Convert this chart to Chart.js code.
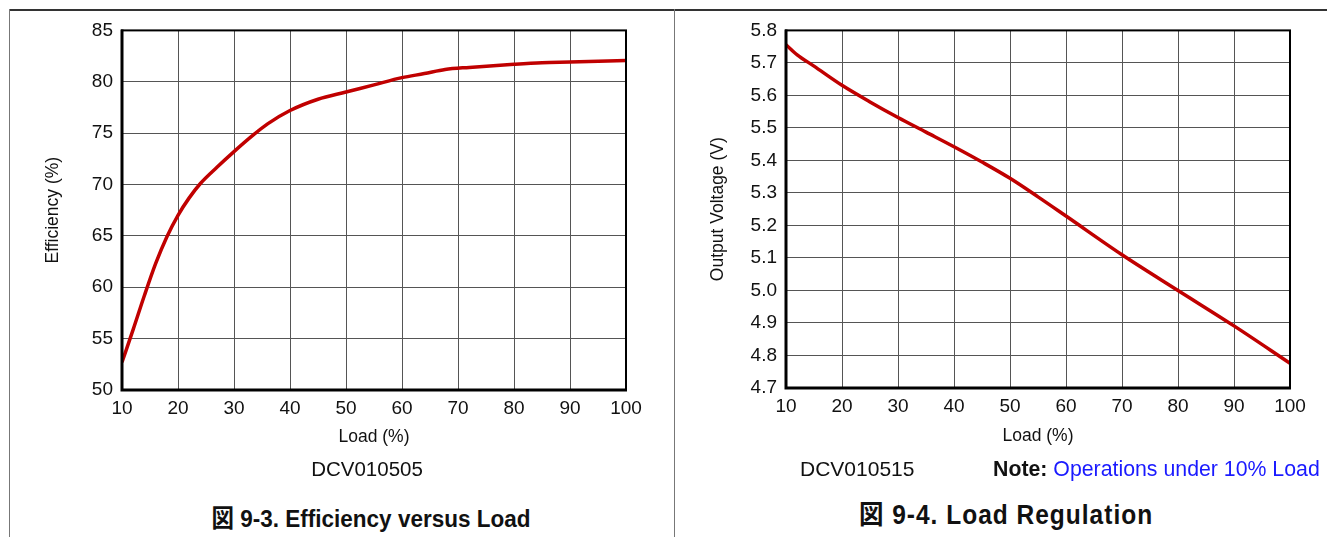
<!DOCTYPE html>
<html>
<head>
<meta charset="utf-8">
<script src="https://cdn.jsdelivr.net/npm/chart.js@4.4.0/dist/chart.umd.min.js"></script>
<style>
  body { margin: 0; background: #fff; font-family: "Liberation Sans", Arial, sans-serif; }
  #page { position: relative; width: 1327px; height: 537px; overflow: hidden; }
  .box { position: absolute; }
  .line { position: absolute; background: #777; }
  .txt { position: absolute; color: #111; white-space: nowrap; }
  .cap { position: absolute; font-weight: bold; font-size: 22.5px; color: #111; white-space: nowrap; transform: translateX(-50%) scaleY(1.1); }
  .cap .kanji { font-family: "Noto Sans CJK JP", sans-serif; }
</style>
</head>
<body>
<div id="page">
  <div class="line" style="left:9px; top:9px; width:1318px; height:2px; background:#333;"></div>
  <div class="line" style="left:9px; top:9px; width:1px; height:528px;"></div>
  <div class="line" style="left:674px; top:9px; width:1px; height:528px;"></div>

  <div class="box" style="left:10px; top:10px; width:664px; height:450px;"><canvas id="effChart"></canvas></div>
  <div class="box" style="left:675px; top:10px; width:652px; height:450px;"><canvas id="voltChart"></canvas></div>

  <div class="txt" style="left:367px; top:457px; font-size:20.5px; transform:translateX(-50%);">DCV010505</div>
  <div class="cap" style="left:371px; top:500px;"><span class="kanji">図</span> 9-3. Efficiency versus Load</div>

  <div class="txt" style="left:800px; top:457px; font-size:21px;">DCV010515</div>
  <div class="txt" style="left:993px; top:457px; font-size:21.3px;"><b>Note:</b> <span style="color:#1a1aff;">Operations under 10% Load</span></div>
  <div class="cap" style="left:1006px; top:495px; font-size:24.5px; letter-spacing:1px;"><span class="kanji">図</span> 9-4. Load Regulation</div>
</div>

<script>
// Efficiency versus Load
const effLoad = [10, 12, 14, 16, 18, 20, 22, 24, 27, 30, 33.4, 36, 40, 45, 50, 55, 60, 64, 67.7, 72, 80, 85, 90, 100];
const effValues = [52.7, 55.9, 59.2, 62.3, 64.9, 67.0, 68.7, 70.1, 71.7, 73.2, 74.8, 75.9, 77.2, 78.3, 79.0, 79.7, 80.4, 80.8, 81.2, 81.4, 81.7, 81.85, 81.92, 82.08];
const effTicksX = [10, 20, 30, 40, 50, 60, 70, 80, 90, 100];
const effTicksY = [50, 55, 60, 65, 70, 75, 80, 85];

// Load Regulation
const voltLoad = [10, 12, 15, 20, 25, 30, 35, 40, 45, 50, 55, 60, 70, 80, 90, 100];
const voltValues = [5.756, 5.725, 5.69, 5.631, 5.58, 5.532, 5.487, 5.442, 5.395, 5.345, 5.288, 5.229, 5.11, 5.0, 4.891, 4.776];
const voltTicksX = [10, 20, 30, 40, 50, 60, 70, 80, 90, 100];
const voltTicksY = [4.7, 4.8, 4.9, 5.0, 5.1, 5.2, 5.3, 5.4, 5.5, 5.6, 5.7, 5.8];

Chart.defaults.font.family = '"Liberation Sans", Arial, sans-serif';
Chart.defaults.color = '#111';

const framePlugin = {
  id: 'frame',
  afterDraw(chart) {
    const a = chart.chartArea, c = chart.ctx;
    c.save();
    c.strokeStyle = '#000';
    c.lineWidth = 2;
    c.strokeRect(a.left, a.top, a.right - a.left, a.bottom - a.top);
    c.lineWidth = 3;
    c.beginPath();
    c.moveTo(a.left, a.top - 1); c.lineTo(a.left, a.bottom); c.lineTo(a.right + 1, a.bottom);
    c.stroke();
    c.restore();
  }
};

function makeChart(id, xs, ys, ticksX, ticksY, yTitle, yFmt, pad, yWidth, yTitlePad, xTitlePad) {
  return new Chart(document.getElementById(id), {
    type: 'line',
    data: {
      datasets: [{
        data: xs.map((x, i) => ({ x: x, y: ys[i] })),
        borderColor: '#c00000',
        borderWidth: 3.5,
        pointRadius: 0,
        cubicInterpolationMode: 'monotone',
        fill: false
      }]
    },
    options: {
      responsive: true,
      maintainAspectRatio: false,
      animation: false,
      layout: { padding: pad },
      plugins: { legend: { display: false }, tooltip: { enabled: false } },
      scales: {
        x: {
          type: 'linear',
          min: ticksX[0], max: ticksX[ticksX.length - 1],
          afterBuildTicks: s => { s.ticks = ticksX.map(v => ({ value: v })); },
          afterFit: s => { s.height = 60; },
          grid: { color: '#555', lineWidth: 1, drawTicks: false },
          border: { display: false },
          ticks: { font: { size: 19 }, padding: 7, maxRotation: 0, autoSkip: false },
          title: { display: true, text: 'Load (%)', font: { size: 17.5 }, padding: { top: 0, bottom: xTitlePad } }
        },
        y: {
          min: ticksY[0], max: ticksY[ticksY.length - 1],
          afterBuildTicks: s => { s.ticks = ticksY.map(v => ({ value: v })); },
          afterFit: s => { s.width = yWidth; },
          grid: { color: '#555', lineWidth: 1, drawTicks: false },
          border: { display: false },
          ticks: { font: { size: 19 }, padding: 9, autoSkip: false, callback: yFmt },
          title: { display: true, text: yTitle, font: { size: 17.5 }, padding: { top: yTitlePad, bottom: 0 } }
        }
      }
    },
    plugins: [framePlugin]
  });
}

makeChart('effChart', effLoad, effValues, effTicksX, effTicksY, 'Efficiency (%)',
  v => String(v), { top: 20, right: 48, bottom: 10, left: 0 }, 112, 33, 2);
makeChart('voltChart', voltLoad, voltValues, voltTicksX, voltTicksY, 'Output Voltage (V)',
  v => Number(v).toFixed(1), { top: 18, right: 37, bottom: 12, left: 0 }, 111, 33, 1);
</script>
</body>
</html>
